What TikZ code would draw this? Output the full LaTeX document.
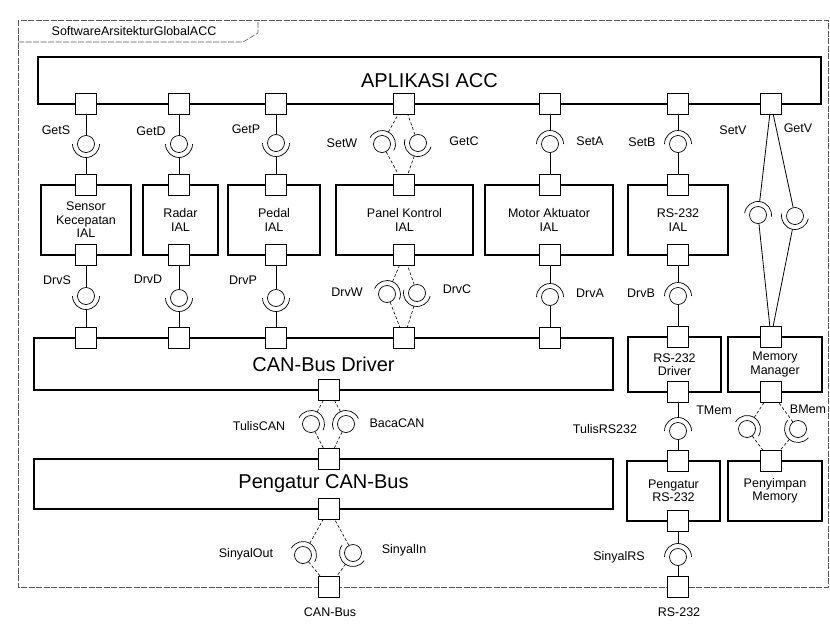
\documentclass[tikz,border=0pt]{standalone}
\usepackage{fontspec}
\setmainfont{Liberation Sans}

\begin{document}
\begin{tikzpicture}[x=1pt,y=1pt,line width=1.3pt,
  comp/.style={draw,inner sep=0pt,align=center,font=\fontsize{12.5}{13.5}\selectfont},
  big/.style={draw,inner sep=0pt,font=\fontsize{20}{24}\selectfont},
  port/.style={draw,fill=white,minimum size=21pt,inner sep=0pt},
  ball/.style={draw,circle,line width=0.7pt,minimum size=17pt,inner sep=0pt},
  sock/.style={line width=0.7pt},
  wire/.style={line width=0.8pt},
  dwire/.style={line width=0.6pt,densely dashed},
  lbl/.style={inner sep=1pt,font=\fontsize{12.5}{13.5}\selectfont},
  frm/.style={draw=black!65,line width=0.6pt,dash pattern=on 6pt off 1.5pt}]
\useasboundingbox (0,0) rectangle (830,-627);
% ball + socket: name, x, y, socket direction, socket port, ball port, wire style
\def\asm#1#2#3#4#5#6#7{%
  \node[ball] (#1) at (#2,-#3) {};
  \coordinate (#1s) at ([shift={(#4:13.5)}]#1.center);
  \draw[sock] ([shift={(#4-90:13.5)}]#1.center) arc[start angle=#4-90,end angle=#4+90,radius=13.5];
  \draw[#7] (#1s) -- (#5);
  \draw[#7] (#1) -- (#6);
}
% ---- frame ----
\draw[frm] (18,-20) rectangle (828,-587);
\draw[frm] (18,-42) -- (243,-42) -- (258,-33) -- (258,-20);
\node[lbl] (title) at (134,-31) {SoftwareArsitekturGlobalACC};
% ---- components ----
\node[big,minimum width=783pt,minimum height=47pt] (app) at (429.5,-80.5) {APLIKASI ACC};
\node[comp,minimum width=90pt,minimum height=70pt] (sens) at (86,-220) {Sensor\\Kecepatan\\IAL};
\node[comp,minimum width=75pt,minimum height=70pt] (radar) at (180.5,-220) {Radar\\IAL};
\node[comp,minimum width=92pt,minimum height=70pt] (pedal) at (274,-220) {Pedal\\IAL};
\node[comp,minimum width=137pt,minimum height=70pt] (panel) at (404.5,-220) {Panel Kontrol\\IAL};
\node[comp,minimum width=128pt,minimum height=70pt] (motor) at (549,-220) {Motor Aktuator\\IAL};
\node[comp,minimum width=100pt,minimum height=70pt] (rsial) at (678,-220) {RS-232\\IAL};
\node[big,minimum width=579pt,minimum height=52pt] (candrv) at (323.5,-364) {CAN-Bus Driver};
\node[big,minimum width=579pt,minimum height=50pt] (canctl) at (323.5,-484) {Pengatur CAN-Bus};
\node[comp,minimum width=93pt,minimum height=55pt] (rsdrv) at (674.5,-364.5) {RS-232\\Driver};
\node[comp,minimum width=94pt,minimum height=55pt] (memmgr) at (775,-364.5) {Memory\\Manager};
\node[comp,minimum width=93pt,minimum height=60pt] (rsctl) at (673.5,-491) {Pengatur\\RS-232};
\node[comp,minimum width=94pt,minimum height=60pt] (memsto) at (775,-491) {Penyimpan\\Memory};
% ---- ports ----
\foreach \n/\x in {S/86,D/179,P/276,W/404,A/550,B/678,V/771}
  \node[port] (a\n) at (\x,-104) {};
\foreach \n/\x in {S/86,D/179,P/276,W/404,A/550,B/678}{
  \node[port] (t\n) at (\x,-185) {};
  \node[port] (b\n) at (\x,-255) {};
}
\foreach \n/\x in {S/86,D/179,P/276,W/404,A/550}
  \node[port] (c\n) at (\x,-338) {};
\node[port] (cdB) at (329,-390) {};
\node[port] (ccT) at (329,-459) {};
\node[port] (ccB) at (329,-509) {};
\node[port] (canP) at (329,-587) {};
\node[port] (rdT) at (678,-337) {};
\node[port] (rdB) at (678,-392) {};
\node[port] (rcT) at (678,-461) {};
\node[port] (rcB) at (678,-521) {};
\node[port] (rsP) at (678,-587) {};
\node[port] (mmT) at (771,-337) {};
\node[port] (mmB) at (771,-392) {};
\node[port] (msT) at (771,-461) {};
% ---- assembly connectors ----
\asm{gS}{86}{144}{-90}{tS}{aS}{wire}
\asm{gD}{179}{144}{-90}{tD}{aD}{wire}
\asm{gP}{276}{143}{-90}{tP}{aP}{wire}
\asm{sW}{382}{144}{62}{aW}{tW}{dwire}
\asm{gC}{418}{143}{254}{tW}{aW}{dwire}
\asm{sA}{550}{144}{90}{aA}{tA}{wire}
\asm{sB}{678}{144}{90}{aB}{tB}{wire}
\asm{sV}{758}{215}{83}{aV}{mmT}{wire}
\asm{gV}{795}{216}{259}{mmT}{aV}{wire}
\asm{dS}{86}{296}{-90}{cS}{bS}{wire}
\asm{dD}{179}{298}{-90}{cD}{bD}{wire}
\asm{dP}{276}{298}{-90}{cP}{bP}{wire}
\asm{dW}{387}{294}{66}{bW}{cW}{dwire}
\asm{dC}{417}{293}{257}{cW}{bW}{dwire}
\asm{dA}{550}{297}{90}{bA}{cA}{wire}
\asm{dB}{678}{296}{90}{bB}{rdT}{wire}
\asm{tCAN}{311}{424}{63}{cdB}{ccT}{dwire}
\asm{bCAN}{346}{424}{114}{cdB}{ccT}{dwire}
\asm{sOut}{303}{555}{60}{ccB}{canP}{dwire}
\asm{sIn}{353}{553}{236}{canP}{ccB}{dwire}
\asm{tRS}{678}{431}{90}{rdB}{rcT}{wire}
\asm{sRS}{678}{557}{90}{rcB}{rsP}{wire}
\asm{tMem}{747}{429}{58}{mmB}{msT}{dwire}
\asm{bMem}{798}{429}{230}{msT}{mmB}{dwire}
% ---- interface labels ----
\node[lbl] (lGetS) at (56,-130) {GetS};
\node[lbl] (lGetD) at (151,-131) {GetD};
\node[lbl] (lGetP) at (246,-129) {GetP};
\node[lbl] (lSetW) at (342,-143) {SetW};
\node[lbl] (lGetC) at (464,-141) {GetC};
\node[lbl] (lSetA) at (590,-141) {SetA};
\node[lbl] (lSetB) at (642,-142) {SetB};
\node[lbl] (lSetV) at (733,-130) {SetV};
\node[lbl] (lGetV) at (798,-128) {GetV};
\node[lbl] (lDrvS) at (57,-280) {DrvS};
\node[lbl] (lDrvD) at (148,-279) {DrvD};
\node[lbl] (lDrvP) at (243,-280) {DrvP};
\node[lbl] (lDrvW) at (347,-292) {DrvW};
\node[lbl] (lDrvC) at (457,-289) {DrvC};
\node[lbl] (lDrvA) at (590,-293) {DrvA};
\node[lbl] (lDrvB) at (641,-293) {DrvB};
\node[lbl] (lTulisCAN) at (259,-426) {TulisCAN};
\node[lbl] (lBacaCAN) at (397,-423) {BacaCAN};
\node[lbl] (lSinyalOut) at (246,-554) {SinyalOut};
\node[lbl] (lSinyalIn) at (404,-550) {SinyalIn};
\node[lbl] (lTulisRS) at (605,-429) {TulisRS232};
\node[lbl] (lSinyalRS) at (619,-557) {SinyalRS};
\node[lbl] (lTMem) at (714,-410) {TMem};
\node[lbl] (lBMem) at (808,-409) {BMem};
\node[lbl] (lCANBus) at (330,-612) {CAN-Bus};
\node[lbl] (lRS232) at (679,-612) {RS-232};
\end{tikzpicture}
\end{document}
